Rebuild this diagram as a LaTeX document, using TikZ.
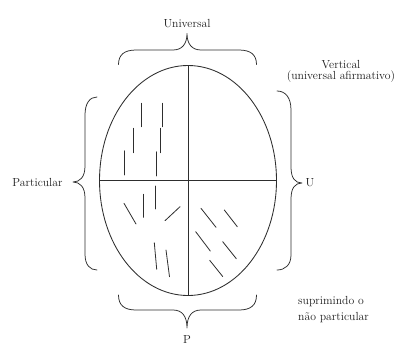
\documentclass[tikz,border=0pt]{standalone}
\usepackage{fontspec}
\definecolor{ink}{HTML}{2E2E2E}
\definecolor{textink}{HTML}{1E1E1E}
\begin{document}
\begin{tikzpicture}[x=1pt,y=-1pt,line cap=round,line join=round]
\tikzset{
  outline/.style={draw=ink,line width=0.85pt},
  hatch/.style={draw=ink,line width=0.8pt},
  bracepath/.style={draw=ink,line width=0.75pt},
  lbl/.style={text=textink,font=\fontsize{11.7}{13}\selectfont,inner sep=0pt,anchor=base}
}
\fill[white] (0,0) rectangle (401,346);
\useasboundingbox (0,0) rectangle (401,346);
% ellipse and axes
\coordinate (c) at (188,180.5);
\draw[outline] (c) ellipse [x radius=88.5, y radius=115];
\coordinate (top) at (188,65.5);
\coordinate (bot) at (188,295.5);
\coordinate (lft) at (99.5,180.5);
\coordinate (rgt) at (276.5,180.5);
\draw[outline] (top) -- (bot);
\draw[outline] (lft) -- (rgt);
% hatch strokes, upper left
\draw[hatch] (141.7,103.3) -- (141.7,126.7);
\draw[hatch] (162.3,103.3) -- (162.3,126.7);
\draw[hatch] (133,128.3) -- (133,152.7);
\draw[hatch] (160.3,128.3) -- (160.3,152.7);
\draw[hatch] (124.3,150.7) -- (124.3,175);
\draw[hatch] (156.7,151.7) -- (156.7,176);
% lower left
\draw[hatch] (155.7,186) -- (155.7,209);
\draw[hatch] (143.3,194.3) -- (143.3,217.3);
\draw[hatch] (124,203.3) -- (136,224);
\draw[hatch] (165,220.7) -- (180,206.7);
\draw[hatch] (154.3,242.7) -- (156.7,269.3);
\draw[hatch] (166,250) -- (169.5,276.7);
% lower right
\draw[hatch] (201,208.3) -- (216,227.3);
\draw[hatch] (224.3,210) -- (237.3,226.7);
\draw[hatch] (195.7,231.7) -- (210.3,251);
\draw[hatch] (222.7,241.7) -- (236.3,258.7);
\draw[hatch] (209.7,260.3) -- (222.7,276.5);
% braces
\draw[bracepath] (118.5,64.5) .. controls (118.5,55) and (124,50) .. (136,50)
  -- (173,50) .. controls (182,50) and (187,44) .. (187,33.5)
  .. controls (187,44) and (192,50) .. (201,50)
  -- (239,50) .. controls (251,50) and (256.5,55) .. (256.5,64.5);
\draw[bracepath] (97,97) .. controls (90,97) and (85,103) .. (85,115)
  -- (85,166) .. controls (85,177) and (80,182) .. (73,182)
  .. controls (80,182) and (85,187) .. (85,198)
  -- (85,254) .. controls (85,265) and (90,270) .. (97,270);
\draw[bracepath] (277,91) .. controls (285,91) and (291,97) .. (291,110)
  -- (291,167) .. controls (291,178) and (295,183) .. (302,183)
  .. controls (295,183) and (291,188) .. (291,199)
  -- (291,255) .. controls (291,265) and (285,270) .. (277,270);
\draw[bracepath] (118.5,295) .. controls (118.5,305) and (124,310) .. (136,310)
  -- (173,310) .. controls (182,310) and (187,316) .. (187,328)
  .. controls (187,316) and (192,310) .. (201,310)
  -- (239,310) .. controls (251,310) and (256.5,305) .. (256.5,295);
% labels
\node[lbl] (universal) at (187,27) {Universal};
\node[lbl] (vertical) at (341,68) {Vertical};
\node[lbl] (afirm) at (341,79.5) {(universal afirmativo)};
\node[lbl] (particular) at (37.5,186.5) {Particular};
\node[lbl] (u) at (310,186.5) {U};
\node[lbl,anchor=base west] (supr) at (298,304) {suprimindo o};
\node[lbl,anchor=base west] (naopart) at (298,320) {não particular};
\node[lbl] (p) at (187,343.5) {P};
\end{tikzpicture}
\end{document}
